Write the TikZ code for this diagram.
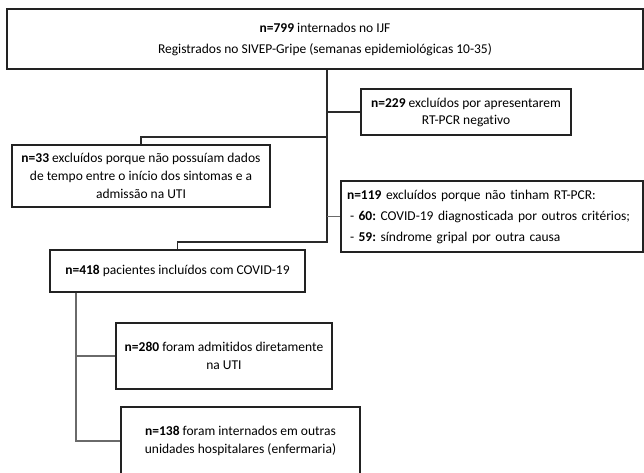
\documentclass[tikz,border=0pt]{standalone}
\usepackage{fontspec}
\setmainfont[Ligatures={NoCommon,TeX}]{Carlito}
\definecolor{boxc}{HTML}{222222}
\definecolor{connc}{HTML}{2A2A2A}
\definecolor{graylc}{HTML}{6A6A6A}
\frenchspacing
\begin{document}
\begin{tikzpicture}[x=1pt,y=-1pt,
  box/.style={draw=boxc, line width=1.6pt, inner sep=0pt, align=center,
    font=\fontsize{13.5}{18}\selectfont},
  conn/.style={draw=connc, line width=1.3pt},
  conng/.style={draw=graylc, line width=1.3pt}]
\useasboundingbox (0,0) rectangle (644,472);
\clip (0,0) rectangle (644,472);
\fill[white] (0,0) rectangle (644,472);

\node[box, minimum width=636pt, minimum height=60pt,
  font=\fontsize{13.5}{21}\selectfont] (top) at (325,39)
  {\textbf{n=799} internados no IJF\\Registrados no SIVEP-Gripe (semanas epidemiológicas 10-35)};
\node[box, minimum width=210pt, minimum height=46pt,
  font=\fontsize{13.5}{17}\selectfont] (b229) at (466,112)
  {\textbf{n=229} excluídos por apresentarem\\RT-PCR negativo};
\node[box, minimum width=258pt, minimum height=62pt] (b33) at (141,176)
  {\textbf{n=33} excluídos porque não possuíam dados\\de tempo entre o início dos sintomas e a\\admissão na UTI};
\node[box, minimum width=302pt, minimum height=71pt, align=left, text width=290pt,
  font=\fontsize{13.5}{21}\selectfont\frenchspacing] (b119) at (492,216.5)
  {\textbf{n=119} excluídos porque não tinham RT-PCR:\\
   \hspace*{3pt}- \textbf{60:} COVID-19 diagnosticada por outros critérios;\\
   \hspace*{3pt}- \textbf{59:} síndrome gripal por outra causa};
\node[box, minimum width=255pt, minimum height=42pt] (b418) at (177.5,271)
  {\textbf{n=418} pacientes incluídos com COVID-19};
\node[box, minimum width=216pt, minimum height=66pt] (b280) at (224,356)
  {\textbf{n=280} foram admitidos diretamente\\na UTI};
\node[box, minimum width=239pt, minimum height=68pt] (b138) at (240.5,441)
  {\textbf{n=138} foram internados em outras\\unidades hospitalares (enfermaria)};

\coordinate (m1) at (327,242);
\coordinate (j33) at (327,137);
\coordinate (lft) at (76,300);

\draw[conn] ([xshift=2pt]top.south) -- (m1) -| (b418.north);
\draw[conn] (b229.west -| m1) -- (b229.west);
\draw[conn] (j33) -| (b33.north);
\draw[conng] (b119.west -| m1) -- (b119.west);
\draw[conng] (b418.south -| lft) -- (b138.west -| lft) -- (b138.west);
\draw[conng] (b280.west -| lft) -- (b280.west);
\end{tikzpicture}
\end{document}
